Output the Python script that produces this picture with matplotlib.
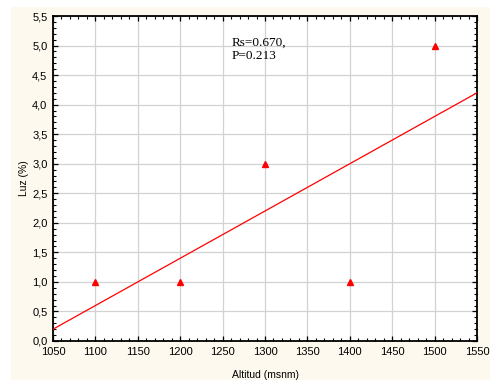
import numpy as np
import matplotlib
matplotlib.use("Agg")
import matplotlib.pyplot as plt
from matplotlib.patches import Rectangle
from matplotlib.ticker import MultipleLocator, FuncFormatter

# Data
altitud = [1100, 1200, 1300, 1400, 1500]
luz = [1.0, 1.0, 3.0, 1.0, 5.0]
stats_text = "Rs=0.670,\nP=0.213"

fig = plt.figure(figsize=(4.9, 3.8), dpi=100)
fig.patch.set_facecolor("white")
# cream panel behind the chart
fig.patches.append(Rectangle((11 / 490, 0), 1 - 11 / 490, 1 - 7 / 380,
                             transform=fig.transFigure, facecolor="#FDF9EE",
                             edgecolor="none", zorder=-10))

ax = fig.add_axes([53 / 490, 1 - 341 / 380, (477 - 53) / 490, (341 - 16) / 380])
ax.set_facecolor("white")

ax.set_xlim(1050, 1550)
ax.set_ylim(0, 5.5)
ax.xaxis.set_major_locator(MultipleLocator(50))
ax.xaxis.set_minor_locator(MultipleLocator(10))
ax.yaxis.set_major_locator(MultipleLocator(0.5))
ax.yaxis.set_minor_locator(MultipleLocator(0.1))
ax.yaxis.set_major_formatter(FuncFormatter(lambda v, p: f"{v:.1f}".replace(".", ",")))

ax.grid(True, which="major", color="#D2D2D2", linewidth=0.9)
ax.set_axisbelow(True)

ax.tick_params(which="both", direction="in", top=True, right=True,
               labelsize=8, colors="black")
ax.tick_params(axis="x", pad=4.5)
ax.tick_params(axis="y", pad=4)
ax.tick_params(which="major", length=3.5, width=0.9)
ax.tick_params(which="minor", length=2, width=0.8)
for lab in ax.get_xticklabels() + ax.get_yticklabels():
    lab.set_fontfamily("Liberation Sans")
for s in ax.spines.values():
    s.set_linewidth(1.3)
    s.set_color("black")

# least-squares fit line
coef = np.polyfit(altitud, luz, 1)
xs = np.array(ax.get_xlim())
ax.plot(xs, np.polyval(coef, xs), color="#FF0000", linewidth=0.9, zorder=3)

ax.plot(altitud, luz, linestyle="none", marker="^", markersize=4.5,
        color="#FF0000", markeredgecolor="#FF0000", zorder=4)

ax.text(1261, 4.93, stats_text, fontsize=9.5, family="Liberation Serif",
        va="center", ha="left", linespacing=1.1)

ax.set_xlabel("Altitud (msnm)", fontsize=7.5, family="Liberation Sans", labelpad=9)
ax.set_ylabel("Luz (%)", fontsize=7.5, family="Liberation Sans", labelpad=2.5)

fig.savefig("out.png", dpi=100)
